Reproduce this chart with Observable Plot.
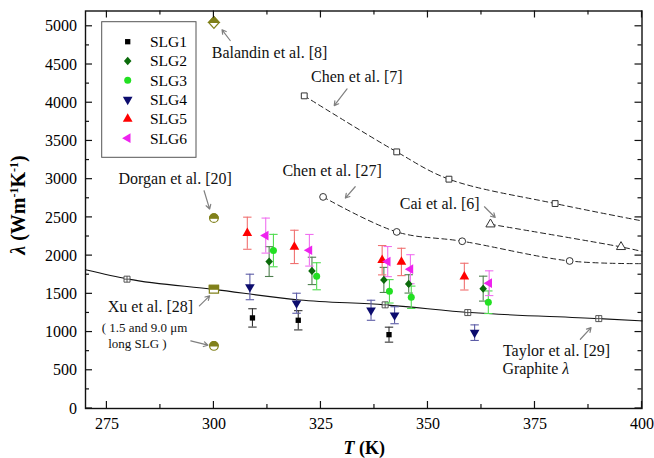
<!DOCTYPE html>
<html><head><meta charset="utf-8">
<script src="https://cdn.jsdelivr.net/npm/d3@7"></script>
<script src="https://cdn.jsdelivr.net/npm/@observablehq/plot@0.6"></script>
<style>body{margin:0;background:#fff;} #chart{width:654px;height:458px;}</style>
</head><body><div id="chart"></div>
<script>
// ---------- measured series (T in K, lambda in W m^-1 K^-1, symmetric error) ----------
const seriesNames = ["SLG1", "SLG2", "SLG3", "SLG4", "SLG5", "SLG6"];
const seriesColors = ["#000000", "#0b6b0b", "#22e022", "#0c0c6e", "#ff0000", "#ee22ee"];
const errColors = ["#333333", "#4f7f4f", "#4fdc4f", "#5c5ca6", "#f07070", "#f070f0"];
const seriesSymbols = ["square", "diamond", "circle", "triangle", "triangle", "triangle"];
const seriesRotate = [0, 0, 0, 180, 0, -90];
const seriesR = [3.0, 4.2, 3.5, 3.6, 3.6, 3.6];

const slg1T = [309.0, 319.7, 340.9];
const slg1L = [1185, 1154, 966];
const slg1E = [120, 126, 98];
const slg2T = [312.9, 322.9, 339.7, 345.5, 362.9];
const slg2L = [1922, 1800, 1682, 1630, 1568];
const slg2E = [195, 179, 164, 120, 163];
const slg3T = [313.9, 324.0, 341.0, 346.1, 364.1];
const slg3L = [2066, 1730, 1533, 1455, 1390];
const slg3E = [212, 177, 153, 146, 148];
const slg4T = [308.4, 319.3, 336.7, 342.2, 360.9];
const slg4L = [1590, 1377, 1285, 1220, 992];
const slg4E = [167, 131, 131, 111, 102];
const slg5T = [307.8, 318.8, 339.3, 343.8, 358.5];
const slg5L = [2293, 2114, 1940, 1917, 1725];
const slg5E = [210, 218, 192, 179, 175];
const slg6T = [312.1, 322.3, 340.6, 345.9, 364.3];
const slg6L = [2262, 2070, 1922, 1822, 1639];
const slg6E = [229, 207, 197, 190, 162];

// ---------- literature references ----------
const chen7T = [321.1, 342.7, 354.9, 379.7];
const chen7L = [4090, 3357, 3000, 2681];
const chen7EndT = 400, chen7EndL = 2454;
const chen27T = [325.5, 342.7, 358.0, 383.1];
const chen27L = [2768, 2310, 2188, 1930];
const chen27EndT = 400, chen27EndL = 1895;
const caiT = [364.6, 395.1];
const caiL = [2410, 2114];
const caiEndT = 400, caiEndL = 2055;
const taylorMarkT = [279.7, 340.0, 359.3, 389.9];
const taylorMarkL = [1692, 1356, 1255, 1176];
const taylorLineT = [270, 280, 300, 320, 340, 360, 390, 400];
const taylorLineL = [1814, 1692, 1558, 1420, 1356, 1255, 1176, 1146];
const balandinT = [300], balandinL = [5050];
const dorganT = [300], dorganL = [2490];
const xuSquareT = [300], xuSquareL = [1561];
const xuCircleT = [300], xuCircleL = [818];

// ---------- annotations ----------
const noteText = ["Balandin et al. [8]", "Chen et al. [7]", "Chen et al. [27]", "Cai et al. [6]", "Dorgan et al. [20]", "Xu et al. [28]", "Taylor et al. [29]"];
const noteT = [299.5, 322.7, 316.0, 343.4, 277.7, 275.2, 367.5];
const noteL = [4647, 4342, 3111, 2675, 3006, 1329, 753];
const graphiteT = [367.5], graphiteL = [513];
const smallText = ["( 1.5 and 9.0 μm", "long SLG )"];
const smallT = [273.8, 275.3];
const smallL = [1058, 849];
const arrowT1 = [303.8, 331.1, 333.0, 363.2, 297.7, 296.6, 294.6, 385.6];
const arrowL1 = [4814, 4181, 2901, 2639, 2849, 1343, 884, 906];
const arrowT2 = [301.9, 328.1, 330.7, 365.7, 299.0, 299.0, 298.6, 388.1];
const arrowL2 = [4954, 3962, 2753, 2499, 2609, 1474, 828, 1058];

// ---------- ticks ----------
const xMajor = [275, 300, 325, 350, 375, 400];
const xMinor = [287.5, 312.5, 337.5, 362.5, 387.5];
const yMajor = [0, 500, 1000, 1500, 2000, 2500, 3000, 3500, 4000, 4500, 5000];
const yMinor = [250, 750, 1250, 1750, 2250, 2750, 3250, 3750, 4250, 4750];

// ---------- build tables ----------
const seriesT = [slg1T, slg2T, slg3T, slg4T, slg5T, slg6T];
const seriesL = [slg1L, slg2L, slg3L, slg4L, slg5L, slg6L];
const seriesE = [slg1E, slg2E, slg3E, slg4E, slg5E, slg6E];
const zip = (a, b) => a.map((t, i) => ({T: t, L: b[i]}));

const olive = "#80801a";
const refStroke = "#333";
const font = "Liberation Serif";

const rad = size => Math.sqrt(size / Math.PI);
const capSym = {draw(c, s) { const w = rad(s); c.moveTo(-w, 0); c.lineTo(w, 0); }};
const halfCircle = {draw(c, s) { const r = rad(s); c.moveTo(-r, 0); c.arc(0, 0, r, Math.PI, 2 * Math.PI); c.closePath(); }};
const fullSquare = {draw(c, s) { const r = rad(s); c.rect(-r, -r * 0.85, 2 * r, 1.7 * r); }};
const halfSquare = {draw(c, s) { const r = rad(s); c.rect(-r, -r * 0.85, 2 * r, 0.85 * r); }};
const fullDiamond = {draw(c, s) { const r = rad(s); c.moveTo(-r, 0); c.lineTo(0, -1.1 * r); c.lineTo(r, 0); c.lineTo(0, 1.1 * r); c.closePath(); }};
const halfDiamond = {draw(c, s) { const r = rad(s); c.moveTo(-r, 0); c.lineTo(0, -1.1 * r); c.lineTo(r, 0); c.closePath(); }};
const fatDiamond = {draw(c, s) { const r = rad(s); c.moveTo(-0.9 * r, 0); c.lineTo(0, -r); c.lineTo(0.9 * r, 0); c.lineTo(0, r); c.closePath(); }};
const boxPlus = {draw(c, s) { const r = rad(s); c.rect(-r, -r, 2 * r, 2 * r); c.moveTo(-r, 0); c.lineTo(r, 0); c.moveTo(0, -r); c.lineTo(0, r); }};
const symMap = {square: d3.symbolSquare, diamond: fatDiamond, circle: d3.symbolCircle, triangle: d3.symbolTriangle};

const errMarks = [], dotMarks = [];
seriesNames.forEach((name, i) => {
  const rows = seriesT[i].map((t, j) => ({T: t, L: seriesL[i][j], E: seriesE[i][j]}));
  errMarks.push(Plot.ruleX(rows, {x: "T", y1: d => d.L - d.E, y2: d => d.L + d.E, stroke: errColors[i], strokeWidth: 1.1}));
  errMarks.push(Plot.dot(rows, {x: "T", y: d => d.L - d.E, symbol: capSym, r: 4.2, stroke: errColors[i], strokeWidth: 1.1}));
  errMarks.push(Plot.dot(rows, {x: "T", y: d => d.L + d.E, symbol: capSym, r: 4.2, stroke: errColors[i], strokeWidth: 1.1}));
  dotMarks.push(Plot.dot(rows, {x: "T", y: "L", symbol: symMap[seriesSymbols[i]], r: seriesR[i], rotate: seriesRotate[i], fill: seriesColors[i], stroke: "none"}));
});

const chen7Line = zip(chen7T.concat([chen7EndT]), chen7L.concat([chen7EndL]));
const chen27Line = zip(chen27T.concat([chen27EndT]), chen27L.concat([chen27EndL]));
const caiLine = zip(caiT.concat([caiEndT]), caiL.concat([caiEndL]));
const dash = {stroke: "#222", strokeWidth: 1, strokeDasharray: "5,3.5", curve: "catmull-rom"};

const notes = noteText.map((t, i) => ({t, T: noteT[i], L: noteL[i]}));
const smalls = smallText.map((t, i) => ({t, T: smallT[i], L: smallL[i]}));
const arrows = arrowT1.map((t, i) => ({x1: t, y1: arrowL1[i], x2: arrowT2[i], y2: arrowL2[i]}));

const plot = Plot.plot({
  width: 654, height: 458,
  marginLeft: 85, marginRight: 12.5, marginTop: 10.5, marginBottom: 50,
  style: "background: white; color: black; font-family: 'Liberation Serif';",
  x: {domain: [270, 400]},
  y: {domain: [0, 5200]},
  marks: [
    Plot.line(zip(taylorLineT, taylorLineL), {x: "T", y: "L", stroke: "#111", strokeWidth: 1.1, curve: "monotone-x"}),
    Plot.line(chen7Line, {x: "T", y: "L", ...dash}),
    Plot.line(chen27Line, {x: "T", y: "L", ...dash}),
    Plot.line(caiLine, {x: "T", y: "L", ...dash}),
    Plot.dot(zip(taylorMarkT, taylorMarkL), {x: "T", y: "L", symbol: boxPlus, r: 3, fill: "white", stroke: "#444", strokeWidth: 0.9}),
    Plot.dot(zip(chen7T, chen7L), {x: "T", y: "L", symbol: "square", r: 3.3, fill: "white", stroke: refStroke, strokeWidth: 1}),
    Plot.dot(zip(chen27T, chen27L), {x: "T", y: "L", symbol: "circle", r: 3.4, fill: "white", stroke: refStroke, strokeWidth: 1}),
    Plot.dot(zip(caiT, caiL), {x: "T", y: "L", symbol: "triangle", r: 3.4, fill: "white", stroke: refStroke, strokeWidth: 1}),
    // half-filled olive references
    Plot.dot(zip(balandinT, balandinL), {x: "T", y: "L", symbol: fullDiamond, r: 5.3, fill: "white", stroke: olive, strokeWidth: 1.2}),
    Plot.dot(zip(balandinT, balandinL), {x: "T", y: "L", symbol: halfDiamond, r: 5.3, fill: olive, stroke: olive, strokeWidth: 1.2}),
    Plot.dot(zip(dorganT, dorganL), {x: "T", y: "L", symbol: "circle", r: 4.3, fill: "white", stroke: olive, strokeWidth: 1.2}),
    Plot.dot(zip(dorganT, dorganL), {x: "T", y: "L", symbol: halfCircle, r: 4.3, fill: olive, stroke: olive, strokeWidth: 1.2}),
    Plot.dot(zip(xuCircleT, xuCircleL), {x: "T", y: "L", symbol: "circle", r: 4.3, fill: "white", stroke: olive, strokeWidth: 1.2}),
    Plot.dot(zip(xuCircleT, xuCircleL), {x: "T", y: "L", symbol: halfCircle, r: 4.3, fill: olive, stroke: olive, strokeWidth: 1.2}),
    Plot.dot(zip(xuSquareT, xuSquareL), {x: "T", y: "L", symbol: fullSquare, r: 4.6, fill: "white", stroke: olive, strokeWidth: 1.2}),
    Plot.dot(zip(xuSquareT, xuSquareL), {x: "T", y: "L", symbol: halfSquare, r: 4.6, fill: olive, stroke: olive, strokeWidth: 1.2}),
    ...errMarks,
    ...dotMarks,
    Plot.arrow(arrows, {x1: "x1", y1: "y1", x2: "x2", y2: "y2", stroke: "#808080", strokeWidth: 1.2, headLength: 6}),
    Plot.text(notes, {x: "T", y: "L", text: "t", textAnchor: "start", fontSize: 16, fill: "#111"}),
    Plot.text(smalls, {x: "T", y: "L", text: "t", textAnchor: "start", fontSize: 13, fill: "#111"}),
    Plot.frame({stroke: "#111", strokeWidth: 1.4}),
    Plot.axisX(xMajor, {tickSize: 0, tickPadding: 9, fontSize: 16, tickFormat: d3.format("d"), label: null}),
    Plot.axisY(yMajor, {tickSize: 0, tickPadding: 8.5, fontSize: 16, tickFormat: d3.format("d"), label: null})
  ]
});

document.getElementById("chart").appendChild(plot);

// ---------- inward ticks on all four sides, from Plot's scales ----------
const svg = d3.select(plot);
const sx = plot.scale("x"), sy = plot.scale("y");
const x0 = sx.apply(270), x1 = sx.apply(400), y0 = sy.apply(0), y1 = sy.apply(5200);
const tg = svg.append("g").attr("stroke", "#111").attr("stroke-width", 1.2);
function xt(v, len) {
  const px = sx.apply(v);
  tg.append("line").attr("x1", px).attr("x2", px).attr("y1", y0).attr("y2", y0 - len);
  tg.append("line").attr("x1", px).attr("x2", px).attr("y1", y1).attr("y2", y1 + len);
}
function yt(v, len) {
  const py = sy.apply(v);
  tg.append("line").attr("y1", py).attr("y2", py).attr("x1", x0).attr("x2", x0 + len);
  tg.append("line").attr("y1", py).attr("y2", py).attr("x1", x1).attr("x2", x1 - len);
}
xMajor.forEach(v => xt(v, 7)); xMinor.forEach(v => xt(v, 4));
yMajor.forEach(v => yt(v, 7)); yMinor.forEach(v => yt(v, 4));

// ---------- "Graphite λ" with italic lambda ----------
const gt = svg.append("text").attr("x", sx.apply(graphiteT[0])).attr("y", sy.apply(graphiteL[0]))
  .attr("dy", "0.35em").attr("font-size", 16).attr("fill", "#111").attr("text-anchor", "start");
gt.append("tspan").text("Graphite ");
gt.append("tspan").attr("font-style", "italic").text("λ");

// ---------- axis titles ----------
const xl = svg.append("text").attr("x", (x0 + x1) / 2 + 1).attr("y", 454)
  .attr("text-anchor", "middle").attr("font-size", 18).attr("font-weight", "bold");
xl.append("tspan").attr("font-style", "italic").text("T");
xl.append("tspan").text(" (K)");

const ylab = svg.append("text").attr("transform", "translate(25,205) rotate(-90)")
  .attr("text-anchor", "middle").attr("font-size", 20).attr("font-weight", "bold");
ylab.append("tspan").attr("font-style", "italic").text("λ");
ylab.append("tspan").text(" (Wm");
ylab.append("tspan").attr("font-size", 12).attr("dy", -7).text("-1");
ylab.append("tspan").attr("dy", 7).text("K");
ylab.append("tspan").attr("font-size", 12).attr("dy", -7).text("-1");
ylab.append("tspan").attr("dy", 7).text(")");

// ---------- legend (inside the frame, upper left) ----------
const lg = svg.append("g");
lg.append("rect").attr("x", 101.7).attr("y", 21.7).attr("width", 94.3).attr("height", 135.6)
  .attr("fill", "white").attr("stroke", "#555").attr("stroke-width", 1);
seriesNames.forEach((name, i) => {
  const cy = 41.7 + i * 19.3;
  const r = seriesR[i];
  lg.append("path").attr("d", d3.symbol(symMap[seriesSymbols[i]], r * r * Math.PI)())
    .attr("transform", `translate(127.7,${cy}) rotate(${seriesRotate[i]})`).attr("fill", seriesColors[i]);
  lg.append("text").attr("x", 150).attr("y", cy).attr("dy", "0.35em").attr("font-size", 15.5)
    .attr("text-anchor", "start").text(name);
});

// request the serif face on every text node
svg.attr("font-family", font);
svg.selectAll("text, tspan").attr("font-family", font);
</script>
</body></html>
